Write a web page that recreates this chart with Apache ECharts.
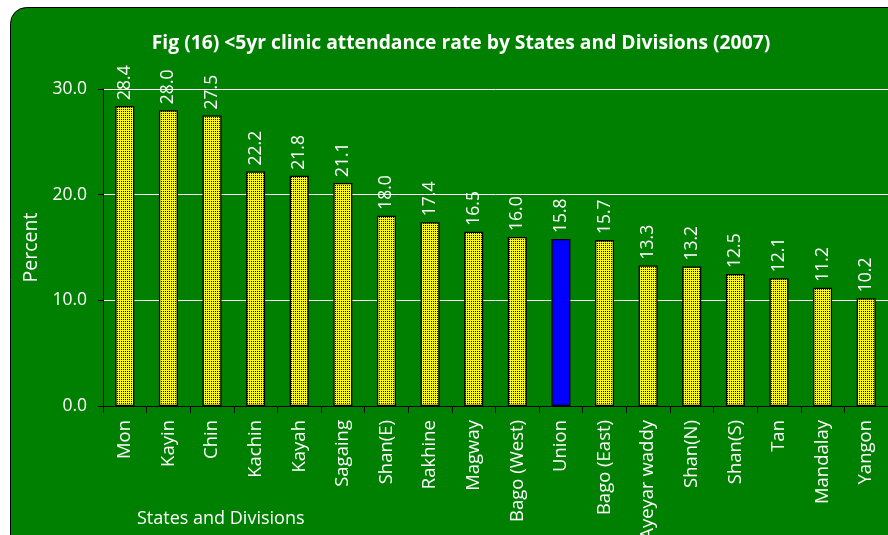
<!DOCTYPE html>
<html><head><meta charset="utf-8">
<script src="https://cdn.jsdelivr.net/npm/echarts@6/dist/echarts.min.js"></script>
<style>html,body{margin:0;padding:0;background:#fff;}#c{width:888px;height:535px;}</style>
</head><body><div id="c"></div>
<script>
var categories = ['Mon','Kayin','Chin','Kachin','Kayah','Sagaing','Shan(E)','Rakhine','Magway','Bago (West)','Union','Bago (East)','Ayeyar waddy','Shan(N)','Shan(S)','Tan','Mandalay','Yangon'];
var values = [28.4,28.0,27.5,22.2,21.8,21.1,18.0,17.4,16.5,16.0,15.8,15.7,13.3,13.2,12.5,12.1,11.2,10.2];
var highlight = 'Union';
var yTicks = [0,10,20,30];

var cv = document.createElement('canvas');
cv.width = 2; cv.height = 2;
var cx = cv.getContext('2d');
cx.fillStyle = '#ffff00'; cx.fillRect(0,0,2,2);
cx.fillStyle = '#000000';
cx.fillRect(1,1,1,1);
var pattern = {image: cv, repeat: 'repeat'};

var font = '"Open Sans", Lato, sans-serif';
var data = categories.map(function(c,i){
  return {value: values[i], itemStyle: c===highlight ? {color:'#0000ff'} : {color: pattern}};
});

var chart = echarts.init(document.getElementById('c'));
chart.setOption({
  backgroundColor: '#ffffff',
  animation: false,
  graphic: [{
    type: 'rect', z: -10, silent: true,
    shape: {x: 10.5, y: 7.5, width: 920, height: 560, r: 16},
    style: {fill: '#008000', stroke: '#000', lineWidth: 1}
  },{
    type: 'text', left: 137, top: 510,
    style: {text: 'States and Divisions', fill: '#fff', font: '18px ' + font}
  }],
  title: {
    text: 'Fig (16) <5yr clinic attendance rate by States and Divisions (2007)',
    left: 456, top: 29, textAlign: 'center',
    textStyle: {color: '#fff', fontSize: 19.3, fontWeight: 'bold', fontFamily: font}
  },
  grid: {left: 103, right: 0, top: 89, bottom: 129, containLabel: false, outerBoundsMode: 'none'},
  xAxis: {
    type: 'category', data: categories,
    axisLine: {lineStyle: {color: '#000', width: 1}},
    axisTick: {show: true, length: 7, lineStyle: {color: '#000'}},
    axisLabel: {rotate: 90, color: '#fff', fontSize: 18.5, fontFamily: font, margin: 14, interval: 0}
  },
  yAxis: {
    type: 'value', min: 0, max: 30, interval: 10,
    name: 'Percent', nameLocation: 'middle', nameGap: 62, nameRotate: 90,
    nameTextStyle: {color: '#fff', fontSize: 19.5, fontFamily: font},
    axisLine: {show: true, lineStyle: {color: '#000'}},
    axisTick: {show: true, length: 5, lineStyle: {color: '#000'}},
    axisLabel: {color: '#fff', fontSize: 17.5, fontFamily: font, margin: 16, formatter: function(v){return v.toFixed(1);}},
    splitLine: {show: true, lineStyle: {color: '#fff', width: 1}}
  },
  series: [{
    type: 'bar', data: data, barWidth: 19,
    itemStyle: {borderColor: '#000', borderWidth: 1.3},
    label: {show: true, position: 'top', rotate: 90, align: 'left', verticalAlign: 'middle', distance: 6,
      color: '#fff', fontSize: 17.5, fontFamily: font, formatter: function(p){return p.value.toFixed(1);}}
  }]
});
</script></body></html>
